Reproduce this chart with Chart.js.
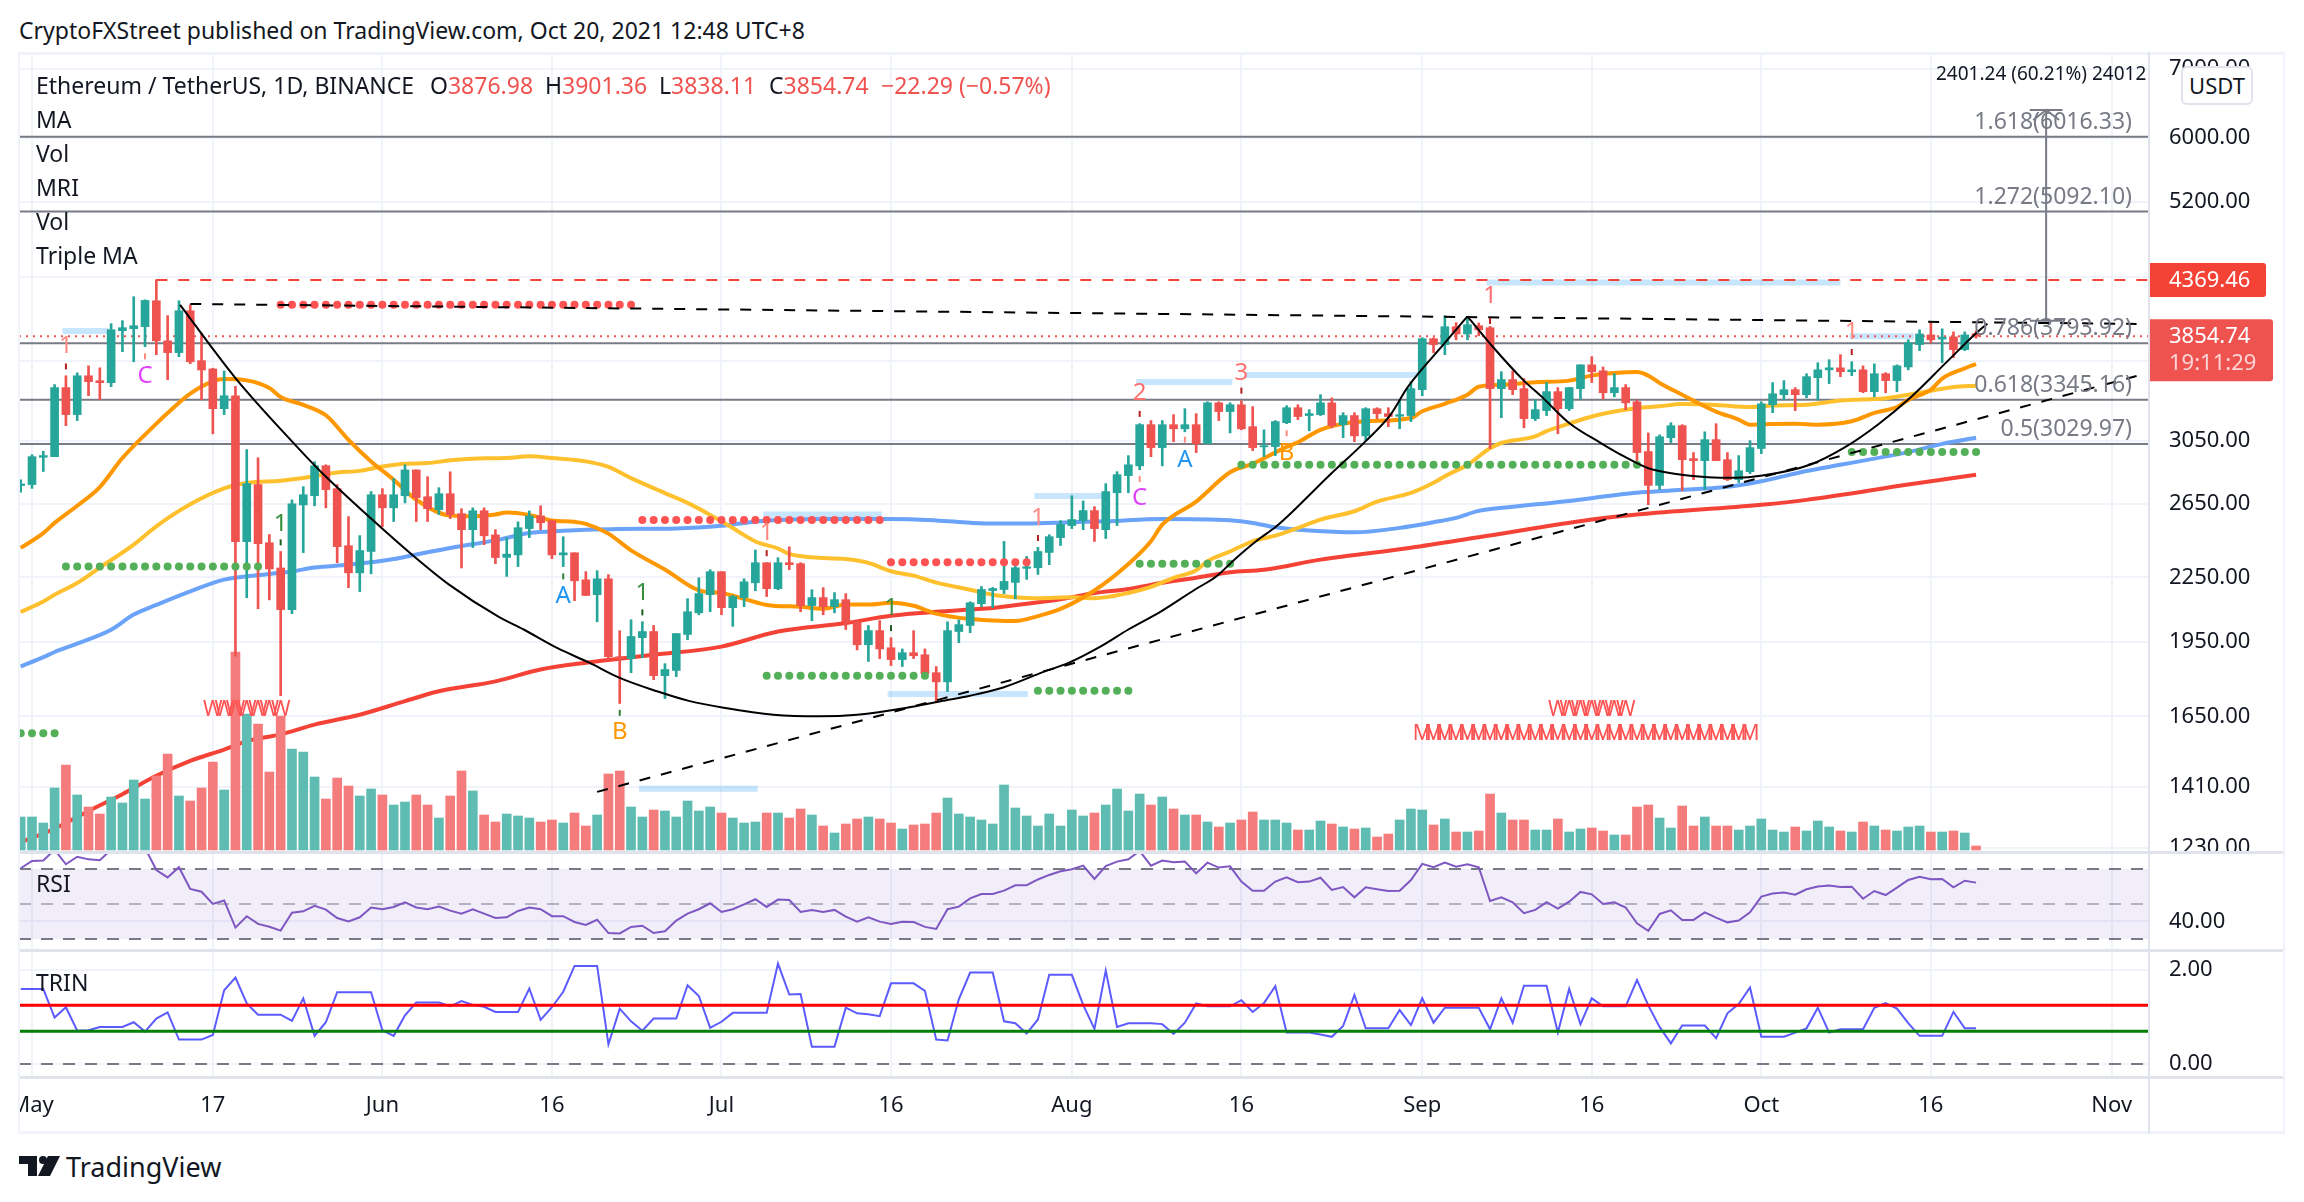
<!DOCTYPE html>
<html>
<head>
<meta charset="utf-8">
<title>ETH/USDT</title>
<script src="https://cdn.jsdelivr.net/npm/chart.js@4/dist/chart.umd.min.js"></script>
<style>
  html, body { margin: 0; background: #fff; width: 2304px; height: 1202px; overflow: hidden; }
  body { font-family: "Noto Sans", sans-serif; color: #131722; }
  canvas { position: absolute; left: 19px; }
  .t { position: absolute; font-size: 23px; line-height: 26px; white-space: nowrap; }
  .r { color: #ef5350; }
  .hl { position: absolute; height: 3px; }
  .vl { position: absolute; width: 2px; }
  #usdt { position: absolute; left: 2181px; top: 66px; width: 68px; height: 35px; background: #fff;
          border: 2px solid #e0e3eb; border-radius: 6px; text-align: center; font-size: 22px; line-height: 35px; }
</style>
</head>
<body>
<canvas id="main" width="2265" height="799" style="top:53px"></canvas>
<canvas id="rsi" width="2265" height="98" style="top:852px"></canvas>
<canvas id="trin" width="2265" height="182" style="top:950px"></canvas>

<div class="hl" style="left:19px;top:52px;width:2265px;background:#f0f3fa"></div>
<div class="hl" style="left:19px;top:851px;width:2265px;background:#e0e3eb"></div>
<div class="hl" style="left:19px;top:949px;width:2265px;background:#e0e3eb"></div>
<div class="hl" style="left:19px;top:1076px;width:2265px;background:#e0e3eb"></div>
<div class="hl" style="left:19px;top:1131px;width:2265px;background:#f0f3fa"></div>
<div class="vl" style="left:18px;top:52px;height:1082px;background:#f0f3fa"></div>
<div class="vl" style="left:2148px;top:52px;height:1082px;background:#e0e3eb"></div>
<div class="vl" style="left:2283px;top:52px;height:1082px;background:#f0f3fa"></div>

<div class="t" style="left:19px;top:17px">CryptoFXStreet published on TradingView.com, Oct 20, 2021 12:48 UTC+8</div>
<div class="t" style="left:36px;top:72px">Ethereum / TetherUS, 1D, BINANCE</div>
<div class="t" style="left:430px;top:72px">O<span class="r">3876.98</span></div>
<div class="t" style="left:545px;top:72px">H<span class="r">3901.36</span></div>
<div class="t" style="left:659px;top:72px">L<span class="r">3838.11</span></div>
<div class="t" style="left:769px;top:72px">C<span class="r">3854.74</span></div>
<div class="t r" style="left:881px;top:72px">−22.29 (−0.57%)</div>
<div class="t" style="left:36px;top:106px">MA</div>
<div class="t" style="left:36px;top:140px">Vol</div>
<div class="t" style="left:36px;top:174px">MRI</div>
<div class="t" style="left:36px;top:208px">Vol</div>
<div class="t" style="left:36px;top:242px">Triple MA</div>
<div class="t" style="left:36px;top:870px">RSI</div>
<div class="t" style="left:36px;top:969px">TRIN</div>
<div id="usdt">USDT</div>

<svg style="position:absolute;left:19px;top:1156px" width="42" height="21" viewBox="0 0 42 21">
  <path d="M0 0h18v20H9V8H0z M29 0h12l-10 20H19z" fill="#131722"/>
  <circle cx="24" cy="4" r="4" fill="#131722"/>
</svg>
<div class="t" style="left:66px;top:1151px;font-size:27px;line-height:32px">TradingView</div>

<script>
// valores: dia 0 = 30 abril 2021
const opens = [
  2762,2768,2942,2946,3437,3236,3529,3490,3475,3902,
  3920,3938,4172,3815,3716,4080,3650,3583,3279,3375,
  2437,2768,2431,2298,2094,2645,2700,2887,2743,2415,
  2273,2384,2706,2628,2700,2860,2694,2617,2712,2594,
  2503,2611,2474,2353,2366,2509,2581,2553,2366,2377,
  2238,2165,2243,1885,1877,1967,1994,1807,1828,1981,
  2079,2165,2279,2103,2151,2223,2325,2194,2325,2320,
  2113,2151,2108,2141,2038,1936,1998,1923,1873,1902,
  1893,1819,1782,1994,2021,2122,2185,2190,2225,2296,
  2299,2379,2459,2526,2554,2612,2503,2718,2824,2886,
  3164,3006,3164,3135,3164,3033,3322,3258,3308,3150,
  3011,3013,3178,3286,3229,3236,3322,3164,3229,3086,
  3279,3243,3224,3229,3421,3833,3783,3937,3874,3946,
  3928,3429,3499,3429,3207,3265,3406,3279,3429,3616,
  3568,3398,3437,3330,2980,2763,3073,3157,2933,2920,
  3060,2926,2799,2849,3000,3308,3383,3421,3383,3514,
  3576,3592,3561,3576,3406,3545,3491,3599,3783,3866,
  3830,3849,3741,3876.98
];
const highs = [
  2798,2959,2982,3460,3529,3552,3608,3592,3964,3991,
  4210,4181,4373,4036,4172,4134,3881,3589,3567,3447,
  2993,2939,2476,2384,2675,2755,2913,2893,2768,2577,
  2470,2725,2743,2805,2893,2860,2817,2749,2848,2623,
  2628,2628,2503,2457,2547,2610,2640,2558,2464,2377,
  2279,2284,2264,1998,2047,2038,2021,1856,1985,2146,
  2248,2289,2279,2161,2243,2392,2325,2351,2409,2325,
  2189,2199,2175,2170,2038,2021,2043,1967,1918,1998,
  1918,1844,2038,2047,2131,2205,2200,2438,2320,2358,
  2406,2475,2554,2700,2669,2635,2774,2849,2953,3171,
  3193,3193,3236,3279,3243,3330,3330,3322,3337,3294,
  3128,3193,3301,3308,3272,3383,3359,3250,3250,3286,
  3286,3286,3344,3483,3841,3841,4036,3973,4009,3970,
  3940,3561,3568,3507,3344,3476,3437,3437,3616,3683,
  3599,3545,3460,3344,3106,3093,3178,3164,2973,3114,
  3171,2973,2953,3053,3330,3476,3491,3437,3545,3633,
  3658,3699,3641,3608,3624,3553,3616,3824,3910,3973,
  3919,3892,3892,3901.36
];
const lows = [
  2721,2745,2850,2946,3157,3193,3375,3345,3444,3724,
  3641,3765,3699,3498,3683,3625,3345,3100,3236,1887,
  2150,2098,2140,1728,2075,2378,2640,2628,2325,2199,
  2180,2268,2520,2549,2657,2549,2549,2589,2566,2298,
  2405,2421,2320,2255,2305,2459,2503,2346,2305,2136,
  2161,2038,1873,1698,1819,1881,1791,1717,1803,1958,
  2070,2084,2070,2017,2108,2184,2156,2189,2289,2084,
  2043,2070,2079,2003,1914,1865,1877,1848,1844,1877,
  1807,1701,1744,1945,1989,2108,2103,2170,2145,2240,
  2265,2315,2416,2509,2503,2438,2454,2526,2718,2861,
  2946,2886,3046,3114,2973,3033,3193,3106,3128,2986,
  2946,2953,3171,3200,3121,3229,3142,3073,3046,3053,
  3207,3150,3135,3186,3375,3716,3699,3824,3824,3858,
  3000,3214,3383,3142,3193,3229,3100,3265,3349,3476,
  3349,3367,3272,2906,2646,2738,3040,2731,2799,2738,
  2920,2793,2781,2836,2966,3250,3344,3265,3359,3344,
  3468,3522,3530,3398,3367,3398,3406,3576,3733,3800,
  3633,3674,3733,3838.11
];
const closes = [
  2772,2946,2953,3437,3236,3529,3483,3475,3911,3929,
  3946,4175,3815,3716,4080,3641,3575,3279,3375,2437,
  2774,2426,2293,2094,2651,2706,2887,2737,2410,2273,
  2389,2706,2628,2706,2860,2688,2623,2712,2589,2503,
  2611,2469,2352,2370,2514,2581,2542,2366,2377,2233,
  2161,2243,1885,1877,1972,1994,1807,1832,1985,2084,
  2170,2279,2103,2156,2228,2325,2194,2325,2315,2113,
  2151,2108,2141,2038,1936,1998,1918,1873,1902,1889,
  1815,1782,1998,2025,2126,2190,2195,2230,2299,2304,
  2384,2464,2532,2560,2612,2509,2725,2830,2893,3164,
  3006,3164,3135,3164,3033,3322,3258,3308,3135,3006,
  3019,3186,3286,3222,3243,3322,3157,3229,3086,3279,
  3243,3222,3236,3429,3833,3783,3937,3874,3955,3910,
  3429,3499,3421,3207,3272,3406,3279,3437,3616,3561,
  3398,3437,3322,2973,2763,3080,3157,2926,2920,3060,
  2920,2799,2855,3006,3315,3390,3421,3383,3522,3576,
  3592,3561,3576,3406,3545,3491,3608,3800,3874,3824,
  3847,3741,3866,3854.74
];
// volumen relativo
const volumes = [
  33,33,27,62,85,55,43,36,53,47,
  70,51,74,96,54,49,62,88,60,198,
  136,126,78,134,101,98,73,51,72,64,
  54,61,55,45,48,55,45,32,54,79,
  59,35,28,36,34,32,28,30,27,37,
  24,35,76,79,43,33,40,39,33,49,
  39,43,37,32,27,28,37,37,32,41,
  35,24,17,26,31,33,31,27,21,25,
  26,37,52,36,33,30,26,65,42,34,
  24,36,24,40,34,37,45,61,39,56,
  45,53,41,35,35,28,23,27,30,38,
  30,30,27,20,20,29,26,23,21,22,
  13,16,30,41,40,25,31,18,18,19,
  56,37,30,30,20,20,31,18,21,22,
  19,15,15,43,45,32,22,44,24,33,
  24,24,20,24,31,20,18,23,19,29,
  23,19,18,28,24,20,19,23,24,18,
  18,19,17,4
];
const rsiValues = [
  70.4,74.6,74.8,81,72.7,77,75.5,75,81,83,
  85,82,69.4,65.2,71,58.6,57,50,52,36.5,
  43,38.6,37,34.8,45,45.8,48.9,46.8,42,40,
  42.4,48,47,48.3,51,48,47,48.5,46.2,44.5,
  47,44.5,42,42.4,46,48,47,43,43,39.7,
  38,41,33.4,33.2,36.9,37.6,33.4,34.4,40.5,44.5,
  47,50.4,45.4,47,49.8,52.7,48.3,52.5,52.3,45.4,
  46.6,45.4,46.6,42.8,39.9,42.4,39.9,38.6,39.9,39.7,
  36.9,35.7,47,48.5,53.2,55.7,55.7,57.6,60.7,60.7,
  64,66.6,68.7,69.8,71.9,64.3,71.7,74.2,75.5,80.3,
  71.9,74.8,73.8,74.2,67.5,73.6,70.8,71.5,62.8,57.6,
  57.6,62.8,65.2,62.4,62.8,65,58,59.7,53.8,59.5,
  58.4,57.4,57.6,63.7,72.9,71,73.6,71.3,72.7,71,
  51.7,53.8,51,44.7,46.6,51,47.3,51.3,56.9,55.5,
  50,51,48,39,34.6,44.3,46.4,40.9,40.9,45.2,
  42.2,39.5,40.5,45.2,54.2,56,56.5,55.3,58.4,60,
  60.5,59.7,59.9,53,57.4,55.1,59.3,63.7,65.6,64.1,
  64.3,59.5,63.3,62.2
];
const trinValues = [
  1.6,1.6,1.6,.99,1.21,.71,.72,.79,.79,.79,
  .89,.69,.97,1.1,.52,.52,.52,.62,1.57,1.84,
  1.29,1.05,1.05,1.05,.92,1.4,.6,.89,1.53,1.53,
  1.53,1.53,.72,.6,1.04,1.31,1.31,1.31,1.23,1.34,
  1.26,1.22,1.11,1.11,1.11,1.61,.94,1.21,1.54,2.09,
  2.09,2.09,.42,1.18,.91,.71,.97,.97,.97,1.68,
  1.45,.77,.9,1.09,1.09,1.09,1.09,2.14,1.48,1.49,
  .37,.37,.37,1.2,1.08,1.06,1.02,1.72,1.72,1.72,
  1.56,.52,.5,1.38,1.95,1.95,1.95,.91,.87,.65,
  .95,1.9,1.9,1.9,1.26,.75,1.99,.79,.87,.87,
  .87,.85,.64,.88,1.29,1.23,1.23,1.23,1.36,1.11,
  1.3,1.66,.67,.67,.67,.63,.58,.81,1.47,.76,
  .76,.76,1.15,.83,1.4,.88,1.2,1.2,1.2,1.2,
  .74,1.4,.88,1.67,1.67,1.67,.67,1.6,.85,1.4,
  1.23,1.23,1.23,1.79,1.25,.79,.44,.82,.82,.82,
  .55,1.08,1.28,1.63,.58,.58,.58,.67,.76,1.2,
  .67,.74,.74,.74,1.2,1.3,1.18,.87,.6,.6,
  .6,1.11,.76,.76
];

// medias moviles
const orangeDays = [0,2,3,5,7,9,12,13,15,17,18,20,22,23,25,27,29,31,33,35,38,40,42,43,45,47,49,50,52,54,57,60,62,64,66,69,71,73,75,77,79,81,84,86,88,90,92,95,98,100,101,104,107,109,112,113,115,117,119,123,124,126,128,129,131,134,137,139,141,143,144,145,147,150,152,153,155,157,159,162,164,166,167,169,170,172,173];
const orangeMA = [2403,2484,2541,2640,2753,2937,3171,3248,3391,3485,3503,3493,3434,3366,3307,3231,3059,2915,2798,2676,2583,2579,2589,2601,2587,2555,2547,2536,2481,2390,2290,2186,2173,2145,2116,2107,2098,2118,2118,2126,2112,2075,2050,2044,2041,2064,2097,2185,2318,2439,2531,2665,2845,2900,3011,3042,3128,3171,3188,3212,3260,3315,3383,3443,3458,3478,3491,3530,3550,3558,3530,3473,3383,3258,3200,3164,3169,3171,3164,3188,3248,3291,3344,3421,3507,3588,3622];
const yellowDays = [0,2,3,5,7,10,12,15,18,20,23,25,28,30,32,34,36,38,41,43,45,47,50,52,54,57,59,61,63,65,67,68,70,73,75,77,79,81,84,86,88,90,93,95,98,100,102,104,105,107,109,111,113,115,118,120,123,125,126,128,130,131,134,135,137,139,141,143,145,147,150,153,155,158,161,165,167,169,171,173];
const yellowMA = [2083,2132,2165,2222,2300,2421,2522,2649,2745,2778,2792,2809,2844,2854,2882,2900,2904,2922,2935,2937,2948,2937,2915,2879,2808,2716,2657,2587,2512,2438,2400,2371,2353,2344,2324,2281,2259,2224,2189,2165,2153,2148,2152,2148,2173,2203,2248,2286,2333,2384,2439,2470,2513,2560,2608,2665,2717,2779,2820,2893,3002,3037,3082,3118,3171,3222,3258,3282,3296,3313,3306,3291,3303,3308,3339,3356,3383,3413,3441,3452];
const blueDays = [0,2,3,5,8,10,12,15,18,22,24,26,29,33,35,38,42,45,48,50,53,58,62,66,71,77,81,84,86,89,93,96,101,107,109,111,114,118,122,125,127,129,132,137,141,143,146,151,154,158,161,164,167,170,173];
const blueMA = [1844,1883,1905,1941,2002,2071,2116,2181,2239,2267,2280,2300,2314,2344,2368,2403,2444,2484,2497,2503,2507,2510,2525,2555,2564,2564,2555,2542,2537,2537,2545,2550,2564,2556,2541,2516,2498,2488,2513,2545,2570,2610,2634,2669,2703,2718,2731,2754,2789,2853,2893,2933,2976,3031,3073];
const redDays = [0,3,6,9,12,15,18,20,23,26,30,34,37,42,46,50,56,62,67,73,77,84,86,89,92,95,98,101,104,107,110,115,123,129,139,143,154,158,167,173];
const redMA = [1246,1284,1336,1387,1445,1494,1532,1561,1585,1620,1656,1707,1745,1784,1832,1860,1893,1928,1994,2032,2065,2094,2102,2122,2143,2173,2193,2223,2248,2276,2289,2341,2404,2461,2560,2589,2646,2675,2768,2830];

// copa y asa, dibujadas a mano en el original
const cupDays = [14.1,19,24,26.4,31.1,34.6,37.9,42.3,44.5,47.5,50.3,53,56.3,59.2,62.2,66.6,70.7,74,78.4,81.4,84,87,90.5,92.7,95.6,98,100.9,103.9,105.8,107.4,109.3,111.1,112.7,115.7,119,121.2,122.7,126,128];
const cupPrices = [4134,3511,3048,2860,2560,2368,2214,2060,2003,1921,1860,1798,1745,1707,1682,1656,1650,1656,1682,1707,1728,1761,1822,1859,1930,2003,2086,2190,2256,2342,2439,2522,2617,2820,3050,3236,3439,3797,4030];
const handleDays = [128,130.2,132.9,134.7,137,139.8,141.9,144,146.3,149.3,151.7,154.1,158.3,161.3,164.3,167.3,170.3,173,174];
const handlePrices = [4030,3769,3499,3357,3176,3037,2946,2871,2836,2814,2810,2824,2893,3004,3164,3370,3630,3880,3964];
const neckDays = [15, 187.2];
const neckPrices = [4142, 3962];
const riseDays = [51, 187.2];
const risePrices = [1394, 3527];

// fibonacci
const fibLevels = [6016.33, 5092.10, 3793.92, 3345.16, 3029.97];
const fibLabels = ['1.618(6016.33)', '1.272(5092.10)', '0.786(3793.92)', '0.618(3345.16)', '0.5(3029.97)'];
const resistance = 4369.46;
const lastPrice = 3854.74;
const countdown = '19:11:29';
const rangeLabel = '2401.24 (60.21%) 24012';
const arrowDay = 179.2;
const arrowTop = 6387;
const arrowBottom = 3989;

// filas de puntos
const dotStarts = [0, 4, 23, 55, 66, 77, 90, 99, 108, 162];
const dotEnds = [3, 21, 54, 76, 80, 89, 98, 107, 143, 173];
const dotLevels = [1589, 2306, 4134, 2558, 1807, 2327, 1747, 2320, 2893, 2977];
const dotKinds = ['g', 'g', 'r', 'r', 'g', 'r', 'g', 'g', 'g', 'g'];

// zonas celestes
const zoneStarts = [3.7, 54.7, 65.7, 76.7, 89.7, 98.7, 108.3, 129.7, 161.8];
const zoneEnds = [7.8, 65.2, 76.2, 89.1, 95.7, 107.2, 123.6, 161, 167.5];
const zoneLevels = [3900, 1404, 2589, 1734, 2698, 3480, 3535, 4345, 3855];

// etiquetas de onda
const markDays = [4, 11, 23, 48, 53, 55, 66, 77, 90, 99, 99, 103, 108, 112, 130, 162];
const markPrices = [3768, 3524, 2532, 2157, 1593, 2173, 2484, 2100, 2570, 3394, 2685, 2920, 3553, 2971, 4216, 3886];
const markTexts = ['1', 'C', '1', 'A', 'B', '1', '1', '1', '1', '2', 'C', 'A', '3', 'B', '1', '1'];
const markColors = ['#ff8a80', '#e040fb', '#388e3c', '#2196f3', '#ff9800', '#388e3c', '#ff8a80', '#388e3c', '#ff8a80', '#ff7070', '#e040fb', '#2196f3', '#ff7070', '#ff9800', '#ff7070', '#ff8a80'];
const pinDays = [4, 11, 23, 48, 53, 55, 66, 77, 90, 99, 99, 103, 108, 112, 130, 162];
const pinPrices = [3603, 3685, 2433, 2255, 1663, 2081, 2375, 2009, 2457, 3241, 2803, 3060, 3414, 3104, 3988, 3721];
const pinColors = ['#b71c1c', '#ff8a80', '#1b5e20', '#2e7d32', '#2e7d32', '#1b5e20', '#b71c1c', '#1b5e20', '#b71c1c', '#b71c1c', '#ff8a80', '#ff8a80', '#b71c1c', '#ff8a80', '#b71c1c', '#b71c1c'];

// zigzag
const zigDays = [17, 18, 19, 20, 21, 22, 23, 136, 137, 138, 139, 140, 141, 142];
const zigLevel = 1674;
const zagDays = [124,125,126,127,128,129,130,131,132,133,134,135,136,137,138,139,140,141,142,143,144,145,146,147,148,149,150,151,152,153];
const zagLevel = 1585;

// ejes
const xTickDays = [1, 17, 32, 47, 62, 77, 93, 108, 124, 139, 154, 169, 185];
const xTickLabels = ['May', '17', 'Jun', '16', 'Jul', '16', 'Aug', '16', 'Sep', '16', 'Oct', '16', 'Nov'];
const priceTicks = [7000, 6000, 5200, 4400, 3650, 3050, 2650, 2250, 1950, 1650, 1410, 1230];
const rsiTicks = [40];
const trinTicks = [0, 2];
const rsiBands = [70, 50, 30];
const trinUpper = 1.25;
const trinLower = 0.7;

const xMin = -0.15, xMax = 188.3;
const FONT = '"Noto Sans", sans-serif';
const TEXT = '#131722', GRID = '#f0f3fa', FIB = '#787b86';
const UP = '#26a69a', DOWN = '#ef5350';
const UP_VOL = '#5fbcb2', DOWN_VOL = '#f57c7c';
const SMOOTH = { cubicInterpolationMode: 'monotone' };

const isDown = i => closes[i] < opens[i];
const pts = (days, values) => days.map((d, i) => ({ x: d, y: values[i] }));
const flat = (a, b, v) => [{ x: a, y: v }, { x: b, y: v }];

function lineSet(data, color, width, order, extra) {
  return Object.assign({ type: 'line', data, borderColor: color, borderWidth: width, pointRadius: 0, tension: 0, order, borderCapStyle: 'butt' }, extra || {});
}

// sin esto chart.js reserva margen para media etiqueta en cada borde
function noPadding(s) {
  s.paddingLeft = s.paddingRight = s.paddingTop = s.paddingBottom = 0;
}

function xScale(showLabels) {
  return {
    type: 'linear', min: xMin, max: xMax, bounds: 'data', offset: false,
    grid: { color: GRID, lineWidth: 2, drawTicks: false, offset: false },
    border: { display: false },
    ticks: {
      display: showLabels, autoSkip: false, maxRotation: 0, padding: 16, color: TEXT,
      font: { family: FONT, size: 22 }, callback: (v, i) => xTickLabels[i]
    },
    afterBuildTicks: s => { s.ticks = xTickDays.map(value => ({ value })); },
    afterFit: s => { s.height = showLabels ? 55 : 0; noPadding(s); }
  };
}

function yScale(type, min, max, ticks) {
  return {
    type, min, max, bounds: 'data', position: 'right',
    grid: { color: GRID, lineWidth: 2, drawTicks: false },
    border: { display: false },
    ticks: { padding: 20, color: TEXT, font: { family: FONT, size: 22 }, callback: v => Number(v).toFixed(2), autoSkip: false },
    afterBuildTicks: s => { s.ticks = ticks.map(value => ({ value })); },
    afterFit: s => { s.width = 135; noPadding(s); }
  };
}

const baseOptions = {
  responsive: false, animation: false, events: [],
  layout: { autoPadding: false, padding: 0 },
  plugins: { legend: { display: false }, tooltip: { enabled: false } }
};

// panel principal
const candleDays = opens.map((_, i) => i);
const mainSets = [];

fibLevels.forEach(v => mainSets.push(lineSet(flat(xMin, xMax, v), FIB, 2, 95)));
zoneStarts.forEach((s, i) => mainSets.push(lineSet(flat(s, zoneEnds[i], zoneLevels[i]), 'rgba(33,150,243,0.25)', 6, 90)));
mainSets.push(lineSet(flat(12, xMax, resistance), '#f44336', 2, 85, { borderDash: [11, 11] }));
mainSets.push(lineSet(flat(xMin, xMax, lastPrice), DOWN, 2, 85, { borderDash: [2, 5] }));

mainSets.push(lineSet(pts(redDays, redMA), '#f44336', 4, 70, SMOOTH));
mainSets.push(lineSet(pts(blueDays, blueMA), '#6aa3f8', 4, 69, SMOOTH));
mainSets.push(lineSet(pts(yellowDays, yellowMA), '#ffc02e', 4, 68, SMOOTH));
mainSets.push(lineSet(pts(orangeDays, orangeMA), '#ff9800', 4, 67, SMOOTH));

mainSets.push({
  type: 'bar', yAxisID: 'vol', order: 60, grouped: false, barThickness: 9, borderWidth: 0,
  data: volumes.map((v, i) => ({ x: i, y: v })),
  backgroundColor: candleDays.map(i => isDown(i) ? DOWN_VOL : UP_VOL)
});
mainSets.push({
  type: 'bar', order: 45, grouped: false, barThickness: 2, borderWidth: 0, borderSkipped: false,
  data: candleDays.map(i => ({ x: i, y: [lows[i], highs[i]] })),
  backgroundColor: candleDays.map(i => isDown(i) ? DOWN : UP)
});
mainSets.push({
  type: 'bar', order: 44, grouped: false, barThickness: 8, borderWidth: 0, borderSkipped: false,
  data: candleDays.map(i => ({ x: i, y: [opens[i], closes[i]] })),
  backgroundColor: candleDays.map(i => isDown(i) ? DOWN : UP)
});

dotStarts.forEach((s, r) => {
  const row = [];
  for (let d = s; d <= dotEnds[r]; d++) row.push({ x: d, y: dotLevels[r] });
  const c = dotKinds[r] === 'g' ? '#54b058' : '#ff5252';
  mainSets.push({ type: 'line', data: row, showLine: false, pointRadius: 4, pointBorderWidth: 0, pointBackgroundColor: c, order: 30 });
});

mainSets.push(lineSet(pts(cupDays, cupPrices), '#000', 2, 20, SMOOTH));
mainSets.push(lineSet(pts(handleDays, handlePrices), '#000', 2, 20, SMOOTH));
mainSets.push(lineSet(pts(neckDays, neckPrices), '#000', 2, 20, { borderDash: [11, 11] }));
mainSets.push(lineSet(pts(riseDays, risePrices), '#000', 2, 20, { borderDash: [11, 11] }));

// flecha de proyeccion
mainSets.push(lineSet(flat(arrowDay, arrowDay, 0).map((p, i) => ({ x: p.x, y: i ? arrowBottom : arrowTop })), FIB, 2, 15));
mainSets.push(lineSet(flat(arrowDay - 1.45, arrowDay + 1.45, arrowTop), FIB, 2, 15));
mainSets.push(lineSet(flat(arrowDay - 1.45, arrowDay + 1.45, arrowBottom), FIB, 2, 15));
mainSets.push(lineSet(pts([arrowDay - 1.15, arrowDay, arrowDay + 1.15], [6246, arrowTop, 6246]), FIB, 2, 15));

// pequeñas marcas sobre las etiquetas
mainSets.push({
  type: 'line', data: pts(pinDays, pinPrices), showLine: false, pointStyle: 'line', pointRotation: 90,
  pointRadius: 3, pointBorderWidth: 2, pointBorderColor: pinColors, order: 10
});

const overlayPlugin = {
  id: 'overlay',
  afterDatasetsDraw(chart) {
    const { ctx, chartArea: a, scales: { x, y } } = chart;
    ctx.save();
    ctx.textBaseline = 'middle';
    ctx.textAlign = 'center';

    ctx.font = '21px ' + FONT;
    ctx.fillStyle = '#ff5252';
    zigDays.forEach(d => ctx.fillText('W', x.getPixelForValue(d), y.getPixelForValue(zigLevel)));
    zagDays.forEach(d => ctx.fillText('M', x.getPixelForValue(d), y.getPixelForValue(zagLevel)));

    ctx.font = '24px ' + FONT;
    markDays.forEach((d, i) => {
      ctx.fillStyle = markColors[i];
      ctx.fillText(markTexts[i], x.getPixelForValue(d), y.getPixelForValue(markPrices[i]));
    });

    ctx.textAlign = 'right';
    ctx.textBaseline = 'bottom';
    ctx.font = '23px ' + FONT;
    ctx.fillStyle = FIB;
    fibLevels.forEach((v, i) => ctx.fillText(fibLabels[i], 2113, y.getPixelForValue(v) - 3));

    ctx.beginPath();
    ctx.rect(a.left, a.top, a.right - a.left, a.bottom - a.top);
    ctx.clip();
    ctx.textAlign = 'left';
    ctx.textBaseline = 'middle';
    ctx.fillStyle = TEXT;
    ctx.font = '19px ' + FONT;
    ctx.fillText(rangeLabel, 1917, 22);
    ctx.restore();
  },
  afterDraw(chart) {
    const { ctx, chartArea: a, scales: { y } } = chart;
    ctx.save();
    ctx.font = '22px ' + FONT;
    ctx.textBaseline = 'middle';
    ctx.textAlign = 'left';

    const ry = y.getPixelForValue(resistance);
    ctx.fillStyle = '#f44336';
    ctx.beginPath();
    ctx.roundRect(a.right, ry - 17, 117, 34, [0, 3, 3, 0]);
    ctx.fill();
    ctx.fillStyle = '#fff';
    ctx.fillText(resistance.toFixed(2), a.right + 20, ry + 1);

    const ly = y.getPixelForValue(lastPrice);
    ctx.fillStyle = DOWN;
    ctx.beginPath();
    ctx.roundRect(a.right, ly - 17, 124, 62, [0, 3, 3, 0]);
    ctx.fill();
    ctx.fillStyle = '#fff';
    ctx.fillText(lastPrice.toFixed(2), a.right + 20, ly + 1);
    ctx.fillStyle = 'rgba(255,255,255,0.75)';
    ctx.fillText(countdown, a.right + 20, ly + 28);
    ctx.restore();
  }
};

new Chart(document.getElementById('main'), {
  type: 'bar',
  data: { datasets: mainSets },
  options: Object.assign({}, baseOptions, {
    scales: {
      x: xScale(false),
      y: yScale('logarithmic', 1219, 7253, priceTicks),
      vol: { type: 'linear', display: false, min: -2, max: 797 }
    }
  }),
  plugins: [overlayPlugin]
});

// RSI
new Chart(document.getElementById('rsi'), {
  type: 'line',
  data: {
    datasets: [
      lineSet(flat(xMin, xMax, rsiBands[0]), FIB, 2, 6, { borderDash: [12, 10], fill: { target: { value: rsiBands[2] } }, backgroundColor: 'rgba(126,87,194,0.1)' }),
      lineSet(flat(xMin, xMax, rsiBands[1]), 'rgba(120,123,134,0.5)', 2, 6, { borderDash: [12, 10] }),
      lineSet(flat(xMin, xMax, rsiBands[2]), FIB, 2, 6, { borderDash: [12, 10] }),
      lineSet(pts(candleDays, rsiValues), '#7e57c2', 2, 1)
    ]
  },
  options: Object.assign({}, baseOptions, {
    scales: { x: xScale(false), y: yScale('linear', 23.7, 79.7, rsiTicks) }
  })
});

// TRIN
new Chart(document.getElementById('trin'), {
  type: 'line',
  data: {
    datasets: [
      lineSet(flat(xMin, xMax, 0), FIB, 2, 6, { borderDash: [12, 10] }),
      lineSet(pts(candleDays, trinValues), '#5b5bff', 2, 5),
      lineSet(flat(xMin, xMax, trinUpper), '#ff0000', 3, 1),
      lineSet(flat(xMin, xMax, trinLower), '#008000', 3, 1)
    ]
  },
  options: Object.assign({}, baseOptions, {
    scales: { x: xScale(true), y: yScale('linear', -0.277, 2.43, trinTicks) }
  })
});
</script>
</body>
</html>
